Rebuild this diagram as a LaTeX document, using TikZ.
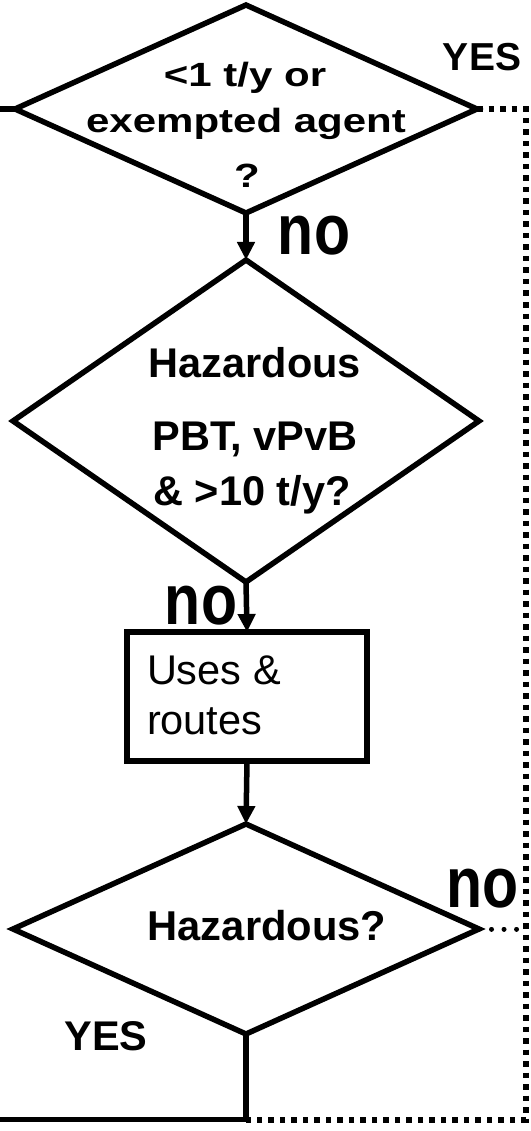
\documentclass[tikz,border=0pt]{standalone}
\usepackage{fontspec}
\setmainfont{Liberation Sans}
\usetikzlibrary{shapes.geometric,arrows.meta}
\newcommand\myfs[1]{\fontsize{#1}{#1}\selectfont}
\tikzset{
  diam/.style={draw, diamond, line width=5.5pt, inner sep=0pt, outer sep=0pt},
  procbox/.style={draw, rectangle, line width=5.4pt, inner sep=0pt, outer sep=0pt},
  lbl/.style={inner sep=0pt, outer sep=0pt, anchor=base, font=\bfseries},
  flow/.style={line width=5.5pt, -{Triangle[width=17pt,length=18pt]}},
  solidline/.style={line width=5.5pt},
  bigdots/.style={line width=6pt, dash pattern=on 5.5pt off 6pt},
  smalldots/.style={line width=5pt, line cap=round, dash pattern=on 0.01pt off 12.5pt},
}
\begin{document}
\begin{tikzpicture}[x=1pt,y=-1pt]
\useasboundingbox (0,0) rectangle (530,1131);
% shapes
\node[diam, minimum width=462pt, minimum height=208pt] (d1) at (246,109) {};
\node[diam, minimum width=466pt, minimum height=322pt] (d2) at (246,421) {};
\node[procbox, minimum width=240pt, minimum height=129pt] (box) at (247,696.5) {};
\node[diam, minimum width=466pt, minimum height=210pt] (d3) at (246,929) {};
% texts of diamond 1
\node[lbl] (d1a) at (245,87) {\myfs{42}\scalebox{1}[0.8]{<1 t/y or}};
\node[lbl] (d1b) at (246,133) {\myfs{42}\scalebox{1}[0.8]{exempted agent}};
\node[lbl] (d1c) at (247,188) {\myfs{42}\scalebox{1}[0.8]{?}};
% texts of diamond 2
\node[lbl] (d2a) at (255,377) {\myfs{41.5}Hazardous};
\node[lbl] (d2b) at (255,450) {\myfs{41.5}PBT, vPvB};
\node[lbl] (d2c) at (252,505) {\myfs{41.5}\& >10 t/y?};
% box text
\node[inner sep=0pt, outer sep=0pt, anchor=base west] (boxa) at (147,684) {\myfs{41.5}Uses \&};
\node[inner sep=0pt, outer sep=0pt, anchor=base west] (boxb) at (147,734) {\myfs{41.5}routes};
% diamond 3
\node[lbl] (d3a) at (267,940) {\myfs{41.7}Hazardous?};
% labels
\node[lbl] (yes1) at (482,71) {\myfs{39}YES};
\node[lbl] (yes2) at (106,1050) {\myfs{41.5}YES};
\node[lbl] (no1) at (314,255) {\myfs{59}\scalebox{1}[1.21]{no}};
\node[lbl] (no2) at (201,624) {\myfs{59}\scalebox{1}[1.21]{no}};
\node[lbl] (no3) at (482.5,907) {\myfs{59}\scalebox{1}[1.21]{no}};
% coordinates
\coordinate (lstub) at (0,109);
\coordinate (tr) at (525.5,109);
\coordinate (br) at (525.5,1119.5);
\coordinate (bm) at (246,1119.5);
\coordinate (bl) at (0,1119.5);
\coordinate (mr) at (525.5,929);
% connectors
\draw[line width=5.5pt] (d1.west) -- (lstub);
\draw[flow] (d1.south) -- (d2.north);
\draw[flow] (d2.south) -- (box.north);
\draw[flow] (box.south) -- (d3.north);
\draw[solidline] (d3.south) -- (bm) -- (bl);
\draw[bigdots] (d1.east) -- (tr) -- (br) -- (bm);
\draw[smalldots] (d3.east) -- (mr);
\end{tikzpicture}
\end{document}
